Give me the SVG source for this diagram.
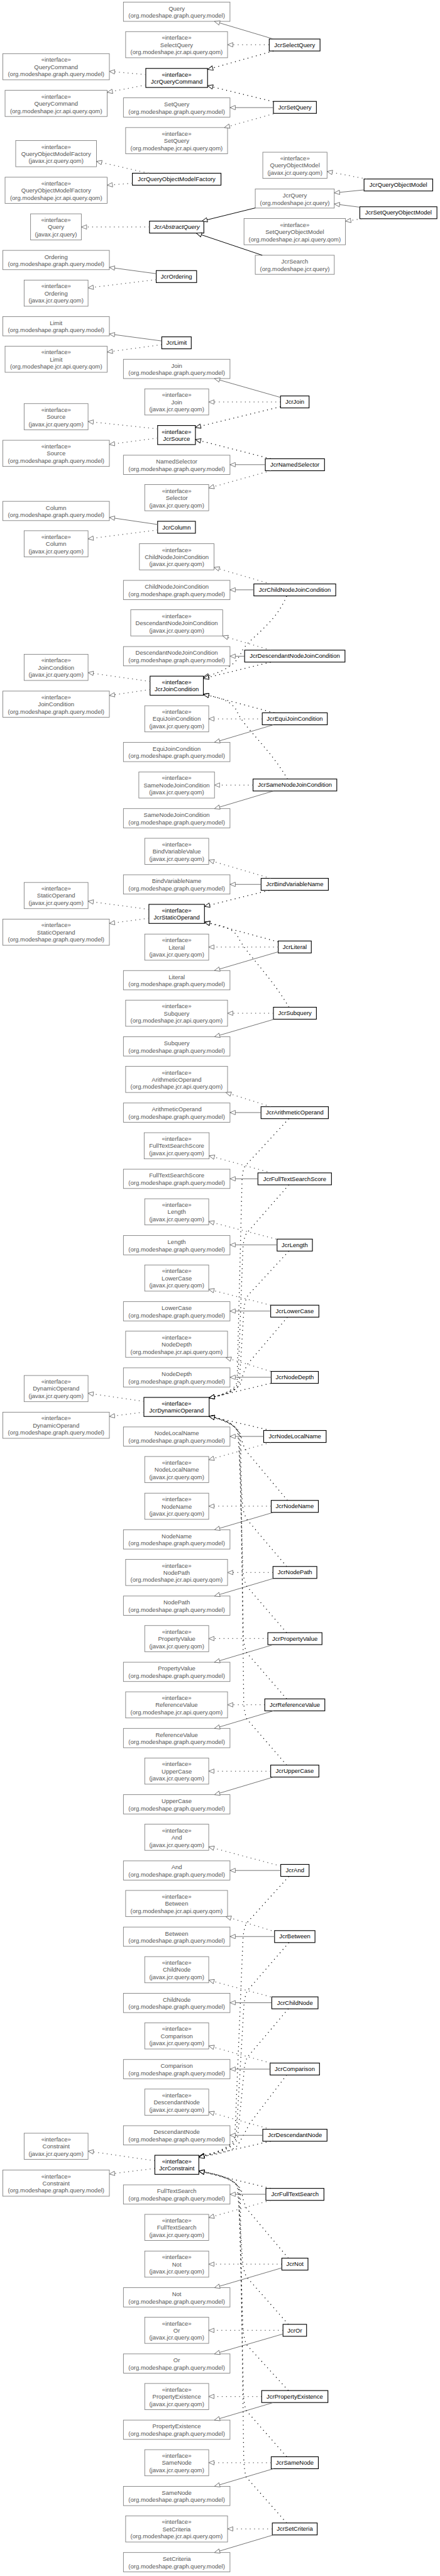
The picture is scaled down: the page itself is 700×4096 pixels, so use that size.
<svg xmlns="http://www.w3.org/2000/svg" width="700" height="4096" viewBox="0 0 700 4096">
<style>
text{font-family:"Liberation Sans",Arial,sans-serif;font-size:13.5px;text-anchor:middle}
.e rect{fill:#fff;stroke:#777;stroke-width:1.2}
.e text{fill:#555}
.j rect{fill:#fff;stroke:#000;stroke-width:1.6}
.j text{fill:#000}
.i{font-style:italic}
#edges path{fill:none}
.g{stroke:#666;stroke-width:1.3;marker-end:url(#ag)}
.gd{stroke:#555;stroke-width:1.8;stroke-dasharray:1.8 8;marker-end:url(#ag)}
.b{stroke:#000;stroke-width:1.4;marker-end:url(#ab)}
.bd{stroke:#000;stroke-width:1.8;stroke-dasharray:1.8 8;marker-end:url(#ab)}
</style>
<defs>
<marker id="ag" viewBox="-1 -1 14 12" refX="12" refY="5" markerWidth="14" markerHeight="12" markerUnits="userSpaceOnUse" orient="auto"><path d="M0,0L12,5L0,10Z" fill="#fff" stroke="#666" stroke-width="1.2"/></marker>
<marker id="ab" viewBox="-1 -1 14 12" refX="12" refY="5" markerWidth="14" markerHeight="12" markerUnits="userSpaceOnUse" orient="auto"><path d="M0,0L12,5L0,10Z" fill="#fff" stroke="#000" stroke-width="1.3"/></marker>
</defs>
<rect width="700" height="4096" fill="#fff"/>
<g transform="scale(0.705)">
<g id="nodes">
<g id="query-model" class="e" transform="translate(278.5,4.7)"><rect width="240.5" height="43.5"/><text x="120.25" y="19">Query</text><text x="120.25" y="35.5">(org.modeshape.graph.query.model)</text></g>
<g id="selectquery-api" class="e" transform="translate(283.5,71.3)"><rect width="230" height="59"/><text x="115" y="18.5">«interface»</text><text x="115" y="34.5">SelectQuery</text><text x="115" y="51">(org.modeshape.jcr.api.query.qom)</text></g>
<g id="JcrSelectQuery" class="j" transform="translate(607.6,88)"><rect width="114.6" height="27"/><text x="57.3" y="18">JcrSelectQuery</text></g>
<g id="querycommand-model" class="e" transform="translate(6.3,121)"><rect width="240.5" height="59"/><text x="120.25" y="18.5">«interface»</text><text x="120.25" y="34.5">QueryCommand</text><text x="120.25" y="51">(org.modeshape.graph.query.model)</text></g>
<g id="JcrQueryCommand" class="j" transform="translate(329,154.3)"><rect width="139.4" height="43"/><text x="69.7" y="18.5">«interface»</text><text x="69.7" y="34.5">JcrQueryCommand</text></g>
<g id="querycommand-api" class="e" transform="translate(11.4,203.7)"><rect width="230.4" height="59"/><text x="115.2" y="18.5">«interface»</text><text x="115.2" y="34.5">QueryCommand</text><text x="115.2" y="51">(org.modeshape.jcr.api.query.qom)</text></g>
<g id="setquery-model" class="e" transform="translate(278.5,220.7)"><rect width="240.5" height="43.5"/><text x="120.25" y="19">SetQuery</text><text x="120.25" y="35.5">(org.modeshape.graph.query.model)</text></g>
<g id="JcrSetQuery" class="j" transform="translate(617,228.7)"><rect width="97" height="27"/><text x="48.5" y="18">JcrSetQuery</text></g>
<g id="setquery-api" class="e" transform="translate(283.5,287.7)"><rect width="230" height="59"/><text x="115" y="18.5">«interface»</text><text x="115" y="34.5">SetQuery</text><text x="115" y="51">(org.modeshape.jcr.api.query.qom)</text></g>
<g id="qomfactory-javax" class="e" transform="translate(35.4,317)"><rect width="182.3" height="59"/><text x="91.15" y="18.5">«interface»</text><text x="91.15" y="34.5">QueryObjectModelFactory</text><text x="91.15" y="51">(javax.jcr.query.qom)</text></g>
<g id="JcrQueryObjectModelFactory" class="j" transform="translate(298.7,390.7)"><rect width="200" height="27"/><text x="100" y="18">JcrQueryObjectModelFactory</text></g>
<g id="qomfactory-api" class="e" transform="translate(11.4,399.7)"><rect width="230.4" height="59"/><text x="115.2" y="18.5">«interface»</text><text x="115.2" y="34.5">QueryObjectModelFactory</text><text x="115.2" y="51">(org.modeshape.jcr.api.query.qom)</text></g>
<g id="qom-javax" class="e" transform="translate(593,343.3)"><rect width="145" height="59"/><text x="72.5" y="18.5">«interface»</text><text x="72.5" y="34.5">QueryObjectModel</text><text x="72.5" y="51">(javax.jcr.query.qom)</text></g>
<g id="JcrQueryObjectModel" class="j" transform="translate(821.5,403.7)"><rect width="155" height="27"/><text x="77.5" y="18">JcrQueryObjectModel</text></g>
<g id="jcrquery" class="e" transform="translate(576,426.3)"><rect width="178.4" height="43"/><text x="89.2" y="19">JcrQuery</text><text x="89.2" y="35.5">(org.modeshape.jcr.query)</text></g>
<g id="JcrSetQueryObjectModel" class="j" transform="translate(812,466.3)"><rect width="174" height="27"/><text x="87" y="18">JcrSetQueryObjectModel</text></g>
<g id="query-javax" class="e" transform="translate(69,482.3)"><rect width="114.5" height="59"/><text x="57.25" y="18.5">«interface»</text><text x="57.25" y="34.5">Query</text><text x="57.25" y="51">(javax.jcr.query)</text></g>
<g id="JcrAbstractQuery" class="j" transform="translate(337.3,498.7)"><rect width="122.7" height="27"/><text class="i" x="61.35" y="18">JcrAbstractQuery</text></g>
<g id="setqom-api" class="e" transform="translate(550.6,493)"><rect width="229" height="59"/><text x="114.5" y="18.5">«interface»</text><text x="114.5" y="34.5">SetQueryObjectModel</text><text x="114.5" y="51">(org.modeshape.jcr.api.query.qom)</text></g>
<g id="jcrsearch" class="e" transform="translate(576,575.7)"><rect width="178.4" height="43"/><text x="89.2" y="19">JcrSearch</text><text x="89.2" y="35.5">(org.modeshape.jcr.query)</text></g>
<g id="ordering-model" class="e" transform="translate(6.3,564.7)"><rect width="240.5" height="43.5"/><text x="120.25" y="19">Ordering</text><text x="120.25" y="35.5">(org.modeshape.graph.query.model)</text></g>
<g id="JcrOrdering" class="j" transform="translate(352.5,610.3)"><rect width="91.2" height="27"/><text x="45.6" y="18">JcrOrdering</text></g>
<g id="ordering-javax" class="e" transform="translate(54.4,631.7)"><rect width="144.3" height="59"/><text x="72.15" y="18.5">«interface»</text><text x="72.15" y="34.5">Ordering</text><text x="72.15" y="51">(javax.jcr.query.qom)</text></g>
<g id="limit-model" class="e" transform="translate(6.3,714)"><rect width="240.5" height="43.5"/><text x="120.25" y="19">Limit</text><text x="120.25" y="35.5">(org.modeshape.graph.query.model)</text></g>
<g id="JcrLimit" class="j" transform="translate(365,759.7)"><rect width="66.6" height="27"/><text x="33.3" y="18">JcrLimit</text></g>
<g id="limit-api" class="e" transform="translate(11.4,780.7)"><rect width="230.4" height="59"/><text x="115.2" y="18.5">«interface»</text><text x="115.2" y="34.5">Limit</text><text x="115.2" y="51">(org.modeshape.jcr.api.query.qom)</text></g>
<g id="join-model" class="e" transform="translate(278.5,810.3)"><rect width="240.5" height="43.5"/><text x="120.25" y="19">Join</text><text x="120.25" y="35.5">(org.modeshape.graph.query.model)</text></g>
<g id="join-javax" class="e" transform="translate(326.6,877)"><rect width="144.4" height="59"/><text x="72.2" y="18.5">«interface»</text><text x="72.2" y="34.5">Join</text><text x="72.2" y="51">(javax.jcr.query.qom)</text></g>
<g id="JcrJoin" class="j" transform="translate(633,893)"><rect width="64.5" height="27"/><text x="32.25" y="18">JcrJoin</text></g>
<g id="source-javax" class="e" transform="translate(54.4,910.3)"><rect width="144.3" height="59"/><text x="72.15" y="18.5">«interface»</text><text x="72.15" y="34.5">Source</text><text x="72.15" y="51">(javax.jcr.query.qom)</text></g>
<g id="JcrSource" class="j" transform="translate(355.7,959.7)"><rect width="85.3" height="43"/><text x="42.65" y="18.5">«interface»</text><text x="42.65" y="34.5">JcrSource</text></g>
<g id="source-model" class="e" transform="translate(6.3,993)"><rect width="240.5" height="59"/><text x="120.25" y="18.5">«interface»</text><text x="120.25" y="34.5">Source</text><text x="120.25" y="51">(org.modeshape.graph.query.model)</text></g>
<g id="namedselector-model" class="e" transform="translate(278.5,1026.7)"><rect width="240.5" height="43.5"/><text x="120.25" y="19">NamedSelector</text><text x="120.25" y="35.5">(org.modeshape.graph.query.model)</text></g>
<g id="JcrNamedSelector" class="j" transform="translate(598.7,1034.7)"><rect width="133.6" height="27"/><text x="66.8" y="18">JcrNamedSelector</text></g>
<g id="selector-javax" class="e" transform="translate(326.6,1093)"><rect width="144.4" height="59"/><text x="72.2" y="18.5">«interface»</text><text x="72.2" y="34.5">Selector</text><text x="72.2" y="51">(javax.jcr.query.qom)</text></g>
<g id="column-model" class="e" transform="translate(6.3,1130.7)"><rect width="240.5" height="43.5"/><text x="120.25" y="19">Column</text><text x="120.25" y="35.5">(org.modeshape.graph.query.model)</text></g>
<g id="JcrColumn" class="j" transform="translate(355.7,1175.7)"><rect width="85.3" height="27"/><text x="42.65" y="18">JcrColumn</text></g>
<g id="column-javax" class="e" transform="translate(54.4,1197)"><rect width="144.3" height="59"/><text x="72.15" y="18.5">«interface»</text><text x="72.15" y="34.5">Column</text><text x="72.15" y="51">(javax.jcr.query.qom)</text></g>
<g id="childnodejoincondition-javax" class="e" transform="translate(314.6,1226.3)"><rect width="168.4" height="59"/><text x="84.2" y="18.5">«interface»</text><text x="84.2" y="34.5">ChildNodeJoinCondition</text><text x="84.2" y="51">(javax.jcr.query.qom)</text></g>
<g id="childnodejoincondition-model" class="e" transform="translate(278.5,1309)"><rect width="240.5" height="43.5"/><text x="120.25" y="19">ChildNodeJoinCondition</text><text x="120.25" y="35.5">(org.modeshape.graph.query.model)</text></g>
<g id="JcrChildNodeJoinCondition" class="j" transform="translate(572.8,1317)"><rect width="184.8" height="27"/><text x="92.4" y="18">JcrChildNodeJoinCondition</text></g>
<g id="descendantnodejoincondition-javax" class="e" transform="translate(295,1375.3)"><rect width="207.5" height="59"/><text x="103.75" y="18.5">«interface»</text><text x="103.75" y="34.5">DescendantNodeJoinCondition</text><text x="103.75" y="51">(javax.jcr.query.qom)</text></g>
<g id="descendantnodejoincondition-model" class="e" transform="translate(278.5,1458.3)"><rect width="240.5" height="43.5"/><text x="120.25" y="19">DescendantNodeJoinCondition</text><text x="120.25" y="35.5">(org.modeshape.graph.query.model)</text></g>
<g id="JcrDescendantNodeJoinCondition" class="j" transform="translate(552,1466.3)"><rect width="226.5" height="27"/><text x="113.25" y="18">JcrDescendantNodeJoinCondition</text></g>
<g id="joincondition-javax" class="e" transform="translate(54.4,1475.7)"><rect width="144.3" height="59"/><text x="72.15" y="18.5">«interface»</text><text x="72.15" y="34.5">JoinCondition</text><text x="72.15" y="51">(javax.jcr.query.qom)</text></g>
<g id="JcrJoinCondition" class="j" transform="translate(338.6,1525)"><rect width="120.3" height="43"/><text x="60.15" y="18.5">«interface»</text><text x="60.15" y="34.5">JcrJoinCondition</text></g>
<g id="joincondition-model" class="e" transform="translate(6.3,1558.7)"><rect width="240.5" height="59"/><text x="120.25" y="18.5">«interface»</text><text x="120.25" y="34.5">JoinCondition</text><text x="120.25" y="51">(org.modeshape.graph.query.model)</text></g>
<g id="equijoincondition-javax" class="e" transform="translate(326.6,1591.7)"><rect width="144.4" height="59"/><text x="72.2" y="18.5">«interface»</text><text x="72.2" y="34.5">EquiJoinCondition</text><text x="72.2" y="51">(javax.jcr.query.qom)</text></g>
<g id="JcrEquiJoinCondition" class="j" transform="translate(591.8,1607.7)"><rect width="146.8" height="27"/><text x="73.4" y="18">JcrEquiJoinCondition</text></g>
<g id="equijoincondition-model" class="e" transform="translate(278.5,1674.3)"><rect width="240.5" height="43.5"/><text x="120.25" y="19">EquiJoinCondition</text><text x="120.25" y="35.5">(org.modeshape.graph.query.model)</text></g>
<g id="samenodejoincondition-javax" class="e" transform="translate(313.3,1741)"><rect width="170.7" height="59"/><text x="85.35" y="18.5">«interface»</text><text x="85.35" y="34.5">SameNodeJoinCondition</text><text x="85.35" y="51">(javax.jcr.query.qom)</text></g>
<g id="JcrSameNodeJoinCondition" class="j" transform="translate(571,1757)"><rect width="189" height="27"/><text x="94.5" y="18">JcrSameNodeJoinCondition</text></g>
<g id="samenodejoincondition-model" class="e" transform="translate(278.5,1823.7)"><rect width="240.5" height="43.5"/><text x="120.25" y="19">SameNodeJoinCondition</text><text x="120.25" y="35.5">(org.modeshape.graph.query.model)</text></g>
<g id="bindvariablevalue-javax" class="e" transform="translate(326.6,1890.7)"><rect width="144.4" height="59"/><text x="72.2" y="18.5">«interface»</text><text x="72.2" y="34.5">BindVariableValue</text><text x="72.2" y="51">(javax.jcr.query.qom)</text></g>
<g id="bindvariablename-model" class="e" transform="translate(278.5,1973)"><rect width="240.5" height="43.5"/><text x="120.25" y="19">BindVariableName</text><text x="120.25" y="35.5">(org.modeshape.graph.query.model)</text></g>
<g id="JcrBindVariableName" class="j" transform="translate(589.2,1981)"><rect width="151.8" height="27"/><text x="75.9" y="18">JcrBindVariableName</text></g>
<g id="staticoperand-javax" class="e" transform="translate(54.4,1990.3)"><rect width="144.3" height="59"/><text x="72.15" y="18.5">«interface»</text><text x="72.15" y="34.5">StaticOperand</text><text x="72.15" y="51">(javax.jcr.query.qom)</text></g>
<g id="JcrStaticOperand" class="j" transform="translate(336,2039.7)"><rect width="125.4" height="43"/><text x="62.7" y="18.5">«interface»</text><text x="62.7" y="34.5">JcrStaticOperand</text></g>
<g id="staticoperand-model" class="e" transform="translate(6.3,2073)"><rect width="240.5" height="59"/><text x="120.25" y="18.5">«interface»</text><text x="120.25" y="34.5">StaticOperand</text><text x="120.25" y="51">(org.modeshape.graph.query.model)</text></g>
<g id="literal-javax" class="e" transform="translate(326.6,2106.7)"><rect width="144.4" height="59"/><text x="72.2" y="18.5">«interface»</text><text x="72.2" y="34.5">Literal</text><text x="72.2" y="51">(javax.jcr.query.qom)</text></g>
<g id="JcrLiteral" class="j" transform="translate(627.8,2122.3)"><rect width="74.7" height="27"/><text x="37.35" y="18">JcrLiteral</text></g>
<g id="literal-model" class="e" transform="translate(278.5,2189)"><rect width="240.5" height="43.5"/><text x="120.25" y="19">Literal</text><text x="120.25" y="35.5">(org.modeshape.graph.query.model)</text></g>
<g id="subquery-api" class="e" transform="translate(283.5,2255.7)"><rect width="230" height="59"/><text x="115" y="18.5">«interface»</text><text x="115" y="34.5">Subquery</text><text x="115" y="51">(org.modeshape.jcr.api.query.qom)</text></g>
<g id="JcrSubquery" class="j" transform="translate(617,2271.7)"><rect width="97" height="27"/><text x="48.5" y="18">JcrSubquery</text></g>
<g id="subquery-model" class="e" transform="translate(278.5,2338.3)"><rect width="240.5" height="43.5"/><text x="120.25" y="19">Subquery</text><text x="120.25" y="35.5">(org.modeshape.graph.query.model)</text></g>
<g id="arithmeticoperand-api" class="e" transform="translate(283.5,2405)"><rect width="230" height="59"/><text x="115" y="18.5">«interface»</text><text x="115" y="34.5">ArithmeticOperand</text><text x="115" y="51">(org.modeshape.jcr.api.query.qom)</text></g>
<g id="arithmeticoperand-model" class="e" transform="translate(278.5,2487.7)"><rect width="240.5" height="43.5"/><text x="120.25" y="19">ArithmeticOperand</text><text x="120.25" y="35.5">(org.modeshape.graph.query.model)</text></g>
<g id="JcrArithmeticOperand" class="j" transform="translate(589,2496)"><rect width="152" height="27"/><text x="76" y="18">JcrArithmeticOperand</text></g>
<g id="fulltextsearchscore-javax" class="e" transform="translate(325.3,2554.7)"><rect width="146.7" height="59"/><text x="73.35" y="18.5">«interface»</text><text x="73.35" y="34.5">FullTextSearchScore</text><text x="73.35" y="51">(javax.jcr.query.qom)</text></g>
<g id="fulltextsearchscore-model" class="e" transform="translate(278.5,2637)"><rect width="240.5" height="43.5"/><text x="120.25" y="19">FullTextSearchScore</text><text x="120.25" y="35.5">(org.modeshape.graph.query.model)</text></g>
<g id="JcrFullTextSearchScore" class="j" transform="translate(582,2645.3)"><rect width="166" height="27"/><text x="83" y="18">JcrFullTextSearchScore</text></g>
<g id="length-javax" class="e" transform="translate(326.6,2703.7)"><rect width="144.4" height="59"/><text x="72.2" y="18.5">«interface»</text><text x="72.2" y="34.5">Length</text><text x="72.2" y="51">(javax.jcr.query.qom)</text></g>
<g id="length-model" class="e" transform="translate(278.5,2786.7)"><rect width="240.5" height="43.5"/><text x="120.25" y="19">Length</text><text x="120.25" y="35.5">(org.modeshape.graph.query.model)</text></g>
<g id="JcrLength" class="j" transform="translate(625.3,2794.7)"><rect width="79.7" height="27"/><text x="39.85" y="18">JcrLength</text></g>
<g id="lowercase-javax" class="e" transform="translate(326.6,2853)"><rect width="144.4" height="59"/><text x="72.2" y="18.5">«interface»</text><text x="72.2" y="34.5">LowerCase</text><text x="72.2" y="51">(javax.jcr.query.qom)</text></g>
<g id="lowercase-model" class="e" transform="translate(278.5,2935.7)"><rect width="240.5" height="43.5"/><text x="120.25" y="19">LowerCase</text><text x="120.25" y="35.5">(org.modeshape.graph.query.model)</text></g>
<g id="JcrLowerCase" class="j" transform="translate(610.8,2943.7)"><rect width="108.8" height="27"/><text x="54.4" y="18">JcrLowerCase</text></g>
<g id="nodedepth-api" class="e" transform="translate(283.5,3002.3)"><rect width="230" height="59"/><text x="115" y="18.5">«interface»</text><text x="115" y="34.5">NodeDepth</text><text x="115" y="51">(org.modeshape.jcr.api.query.qom)</text></g>
<g id="nodedepth-model" class="e" transform="translate(278.5,3085)"><rect width="240.5" height="43.5"/><text x="120.25" y="19">NodeDepth</text><text x="120.25" y="35.5">(org.modeshape.graph.query.model)</text></g>
<g id="JcrNodeDepth" class="j" transform="translate(612,3093)"><rect width="106.4" height="27"/><text x="53.2" y="18">JcrNodeDepth</text></g>
<g id="dynamicoperand-javax" class="e" transform="translate(54.4,3102.3)"><rect width="144.3" height="59"/><text x="72.15" y="18.5">«interface»</text><text x="72.15" y="34.5">DynamicOperand</text><text x="72.15" y="51">(javax.jcr.query.qom)</text></g>
<g id="JcrDynamicOperand" class="j" transform="translate(324.7,3151.7)"><rect width="147.3" height="43"/><text x="73.65" y="18.5">«interface»</text><text x="73.65" y="34.5">JcrDynamicOperand</text></g>
<g id="dynamicoperand-model" class="e" transform="translate(6.3,3185)"><rect width="240.5" height="59"/><text x="120.25" y="18.5">«interface»</text><text x="120.25" y="34.5">DynamicOperand</text><text x="120.25" y="51">(org.modeshape.graph.query.model)</text></g>
<g id="nodelocalname-model" class="e" transform="translate(278.5,3218.3)"><rect width="240.5" height="43.5"/><text x="120.25" y="19">NodeLocalName</text><text x="120.25" y="35.5">(org.modeshape.graph.query.model)</text></g>
<g id="JcrNodeLocalName" class="j" transform="translate(595,3226.3)"><rect width="141" height="27"/><text x="70.5" y="18">JcrNodeLocalName</text></g>
<g id="nodelocalname-javax" class="e" transform="translate(326.6,3285)"><rect width="144.4" height="59"/><text x="72.2" y="18.5">«interface»</text><text x="72.2" y="34.5">NodeLocalName</text><text x="72.2" y="51">(javax.jcr.query.qom)</text></g>
<g id="nodename-javax" class="e" transform="translate(326.6,3367.7)"><rect width="144.4" height="59"/><text x="72.2" y="18.5">«interface»</text><text x="72.2" y="34.5">NodeName</text><text x="72.2" y="51">(javax.jcr.query.qom)</text></g>
<g id="JcrNodeName" class="j" transform="translate(612,3384)"><rect width="106.4" height="27"/><text x="53.2" y="18">JcrNodeName</text></g>
<g id="nodename-model" class="e" transform="translate(278.5,3450.3)"><rect width="240.5" height="43.5"/><text x="120.25" y="19">NodeName</text><text x="120.25" y="35.5">(org.modeshape.graph.query.model)</text></g>
<g id="nodepath-api" class="e" transform="translate(283.5,3517)"><rect width="230" height="59"/><text x="115" y="18.5">«interface»</text><text x="115" y="34.5">NodePath</text><text x="115" y="51">(org.modeshape.jcr.api.query.qom)</text></g>
<g id="JcrNodePath" class="j" transform="translate(616,3533)"><rect width="99" height="27"/><text x="49.5" y="18">JcrNodePath</text></g>
<g id="nodepath-model" class="e" transform="translate(278.5,3599.7)"><rect width="240.5" height="43.5"/><text x="120.25" y="19">NodePath</text><text x="120.25" y="35.5">(org.modeshape.graph.query.model)</text></g>
<g id="propertyvalue-javax" class="e" transform="translate(326.6,3666.3)"><rect width="144.4" height="59"/><text x="72.2" y="18.5">«interface»</text><text x="72.2" y="34.5">PropertyValue</text><text x="72.2" y="51">(javax.jcr.query.qom)</text></g>
<g id="JcrPropertyValue" class="j" transform="translate(604.4,3682.3)"><rect width="122.2" height="27"/><text x="61.1" y="18">JcrPropertyValue</text></g>
<g id="propertyvalue-model" class="e" transform="translate(278.5,3749)"><rect width="240.5" height="43.5"/><text x="120.25" y="19">PropertyValue</text><text x="120.25" y="35.5">(org.modeshape.graph.query.model)</text></g>
<g id="referencevalue-api" class="e" transform="translate(283.5,3815.7)"><rect width="230" height="59"/><text x="115" y="18.5">«interface»</text><text x="115" y="34.5">ReferenceValue</text><text x="115" y="51">(org.modeshape.jcr.api.query.qom)</text></g>
<g id="JcrReferenceValue" class="j" transform="translate(597.5,3831.7)"><rect width="135.5" height="27"/><text x="67.75" y="18">JcrReferenceValue</text></g>
<g id="referencevalue-model" class="e" transform="translate(278.5,3898.3)"><rect width="240.5" height="43.5"/><text x="120.25" y="19">ReferenceValue</text><text x="120.25" y="35.5">(org.modeshape.graph.query.model)</text></g>
<g id="uppercase-javax" class="e" transform="translate(326.6,3965)"><rect width="144.4" height="59"/><text x="72.2" y="18.5">«interface»</text><text x="72.2" y="34.5">UpperCase</text><text x="72.2" y="51">(javax.jcr.query.qom)</text></g>
<g id="JcrUpperCase" class="j" transform="translate(610.8,3981)"><rect width="108.8" height="27"/><text x="54.4" y="18">JcrUpperCase</text></g>
<g id="uppercase-model" class="e" transform="translate(278.5,4047.7)"><rect width="240.5" height="43.5"/><text x="120.25" y="19">UpperCase</text><text x="120.25" y="35.5">(org.modeshape.graph.query.model)</text></g>
<g id="and-javax" class="e" transform="translate(326.6,4114.3)"><rect width="144.4" height="59"/><text x="72.2" y="18.5">«interface»</text><text x="72.2" y="34.5">And</text><text x="72.2" y="51">(javax.jcr.query.qom)</text></g>
<g id="and-model" class="e" transform="translate(278.5,4197)"><rect width="240.5" height="43.5"/><text x="120.25" y="19">And</text><text x="120.25" y="35.5">(org.modeshape.graph.query.model)</text></g>
<g id="JcrAnd" class="j" transform="translate(633.5,4205)"><rect width="64" height="27"/><text x="32" y="18">JcrAnd</text></g>
<g id="between-api" class="e" transform="translate(283.5,4263.7)"><rect width="230" height="59"/><text x="115" y="18.5">«interface»</text><text x="115" y="34.5">Between</text><text x="115" y="51">(org.modeshape.jcr.api.query.qom)</text></g>
<g id="between-model" class="e" transform="translate(278.5,4346.3)"><rect width="240.5" height="43.5"/><text x="120.25" y="19">Between</text><text x="120.25" y="35.5">(org.modeshape.graph.query.model)</text></g>
<g id="JcrBetween" class="j" transform="translate(619.6,4354.3)"><rect width="91.2" height="27"/><text x="45.6" y="18">JcrBetween</text></g>
<g id="childnode-javax" class="e" transform="translate(326.6,4413)"><rect width="144.4" height="59"/><text x="72.2" y="18.5">«interface»</text><text x="72.2" y="34.5">ChildNode</text><text x="72.2" y="51">(javax.jcr.query.qom)</text></g>
<g id="childnode-model" class="e" transform="translate(278.5,4495.7)"><rect width="240.5" height="43.5"/><text x="120.25" y="19">ChildNode</text><text x="120.25" y="35.5">(org.modeshape.graph.query.model)</text></g>
<g id="JcrChildNode" class="j" transform="translate(613.3,4503.7)"><rect width="104.4" height="27"/><text x="52.2" y="18">JcrChildNode</text></g>
<g id="comparison-javax" class="e" transform="translate(326.6,4562.3)"><rect width="144.4" height="59"/><text x="72.2" y="18.5">«interface»</text><text x="72.2" y="34.5">Comparison</text><text x="72.2" y="51">(javax.jcr.query.qom)</text></g>
<g id="comparison-model" class="e" transform="translate(278.5,4645)"><rect width="240.5" height="43.5"/><text x="120.25" y="19">Comparison</text><text x="120.25" y="35.5">(org.modeshape.graph.query.model)</text></g>
<g id="JcrComparison" class="j" transform="translate(609.5,4653)"><rect width="111.5" height="27"/><text x="55.75" y="18">JcrComparison</text></g>
<g id="descendantnode-javax" class="e" transform="translate(326.6,4711.7)"><rect width="144.4" height="59"/><text x="72.2" y="18.5">«interface»</text><text x="72.2" y="34.5">DescendantNode</text><text x="72.2" y="51">(javax.jcr.query.qom)</text></g>
<g id="descendantnode-model" class="e" transform="translate(278.5,4794.3)"><rect width="240.5" height="43.5"/><text x="120.25" y="19">DescendantNode</text><text x="120.25" y="35.5">(org.modeshape.graph.query.model)</text></g>
<g id="JcrDescendantNode" class="j" transform="translate(593,4802.3)"><rect width="145" height="27"/><text x="72.5" y="18">JcrDescendantNode</text></g>
<g id="constraint-javax" class="e" transform="translate(54.4,4811.3)"><rect width="144.3" height="59"/><text x="72.15" y="18.5">«interface»</text><text x="72.15" y="34.5">Constraint</text><text x="72.15" y="51">(javax.jcr.query.qom)</text></g>
<g id="JcrConstraint" class="j" transform="translate(349.4,4861)"><rect width="99.3" height="43"/><text x="49.65" y="18.5">«interface»</text><text x="49.65" y="34.5">JcrConstraint</text></g>
<g id="constraint-model" class="e" transform="translate(6.3,4894.3)"><rect width="240.5" height="59"/><text x="120.25" y="18.5">«interface»</text><text x="120.25" y="34.5">Constraint</text><text x="120.25" y="51">(org.modeshape.graph.query.model)</text></g>
<g id="fulltextsearch-model" class="e" transform="translate(278.5,4927.7)"><rect width="240.5" height="43.5"/><text x="120.25" y="19">FullTextSearch</text><text x="120.25" y="35.5">(org.modeshape.graph.query.model)</text></g>
<g id="JcrFullTextSearch" class="j" transform="translate(600,4935.7)"><rect width="131" height="27"/><text x="65.5" y="18">JcrFullTextSearch</text></g>
<g id="fulltextsearch-javax" class="e" transform="translate(326.6,4994.3)"><rect width="144.4" height="59"/><text x="72.2" y="18.5">«interface»</text><text x="72.2" y="34.5">FullTextSearch</text><text x="72.2" y="51">(javax.jcr.query.qom)</text></g>
<g id="not-javax" class="e" transform="translate(326.6,5077)"><rect width="144.4" height="59"/><text x="72.2" y="18.5">«interface»</text><text x="72.2" y="34.5">Not</text><text x="72.2" y="51">(javax.jcr.query.qom)</text></g>
<g id="JcrNot" class="j" transform="translate(636,5093)"><rect width="59" height="27"/><text x="29.5" y="18">JcrNot</text></g>
<g id="not-model" class="e" transform="translate(278.5,5159.7)"><rect width="240.5" height="43.5"/><text x="120.25" y="19">Not</text><text x="120.25" y="35.5">(org.modeshape.graph.query.model)</text></g>
<g id="or-javax" class="e" transform="translate(326.6,5226.3)"><rect width="144.4" height="59"/><text x="72.2" y="18.5">«interface»</text><text x="72.2" y="34.5">Or</text><text x="72.2" y="51">(javax.jcr.query.qom)</text></g>
<g id="JcrOr" class="j" transform="translate(638.6,5242.3)"><rect width="53.2" height="27"/><text x="26.6" y="18">JcrOr</text></g>
<g id="or-model" class="e" transform="translate(278.5,5309)"><rect width="240.5" height="43.5"/><text x="120.25" y="19">Or</text><text x="120.25" y="35.5">(org.modeshape.graph.query.model)</text></g>
<g id="propertyexistence-javax" class="e" transform="translate(326.6,5375.7)"><rect width="144.4" height="59"/><text x="72.2" y="18.5">«interface»</text><text x="72.2" y="34.5">PropertyExistence</text><text x="72.2" y="51">(javax.jcr.query.qom)</text></g>
<g id="JcrPropertyExistence" class="j" transform="translate(590.5,5391.7)"><rect width="149.5" height="27"/><text x="74.75" y="18">JcrPropertyExistence</text></g>
<g id="propertyexistence-model" class="e" transform="translate(278.5,5458.3)"><rect width="240.5" height="43.5"/><text x="120.25" y="19">PropertyExistence</text><text x="120.25" y="35.5">(org.modeshape.graph.query.model)</text></g>
<g id="samenode-javax" class="e" transform="translate(326.6,5525)"><rect width="144.4" height="59"/><text x="72.2" y="18.5">«interface»</text><text x="72.2" y="34.5">SameNode</text><text x="72.2" y="51">(javax.jcr.query.qom)</text></g>
<g id="JcrSameNode" class="j" transform="translate(612,5541)"><rect width="106.4" height="27"/><text x="53.2" y="18">JcrSameNode</text></g>
<g id="samenode-model" class="e" transform="translate(278.5,5607.7)"><rect width="240.5" height="43.5"/><text x="120.25" y="19">SameNode</text><text x="120.25" y="35.5">(org.modeshape.graph.query.model)</text></g>
<g id="setcriteria-api" class="e" transform="translate(283.5,5674.3)"><rect width="230" height="59"/><text x="115" y="18.5">«interface»</text><text x="115" y="34.5">SetCriteria</text><text x="115" y="51">(org.modeshape.jcr.api.query.qom)</text></g>
<g id="JcrSetCriteria" class="j" transform="translate(614.5,5690.3)"><rect width="101.3" height="27"/><text x="50.65" y="18">JcrSetCriteria</text></g>
<g id="setcriteria-model" class="e" transform="translate(278.5,5757)"><rect width="240.5" height="43.5"/><text x="120.25" y="19">SetCriteria</text><text x="120.25" y="35.5">(org.modeshape.graph.query.model)</text></g>
</g>
<g id="edges">
<path class="g" d="M617,88L484,48.3"/>
<path class="gd" d="M607,101L513.5,101"/>
<path class="bd" d="M617,115L468.4,156.7"/>
<path class="gd" d="M329,168.3L246.8,161"/>
<path class="gd" d="M329,191.7L241.8,208.3"/>
<path class="bd" d="M617,229.3L468.4,193.3"/>
<path class="g" d="M617,242.7L519,242.7"/>
<path class="gd" d="M617,256.7L506.3,287.7"/>
<path class="gd" d="M335.4,390.7L217.7,364"/>
<path class="gd" d="M298.7,413.3L241.8,417.7"/>
<path class="gd" d="M827.8,403.7L738,386.7"/>
<path class="g" d="M821.5,428.3L754.4,435"/>
<path class="g" d="M812,467.3L754.4,460"/>
<path class="gd" d="M816.5,493.3L779.7,499"/>
<path class="b" d="M576,469L455.7,498.7"/>
<path class="gd" d="M337.3,512L183.5,512"/>
<path class="b" d="M591.8,575.7L443,525.7"/>
<path class="g" d="M352.5,617.3L246.8,603"/>
<path class="gd" d="M352.5,630.7L198.7,649.3"/>
<path class="g" d="M365,769L246.8,753.3"/>
<path class="gd" d="M365,777.3L241.8,794"/>
<path class="g" d="M633,896.3L484,853.8"/>
<path class="gd" d="M633,906.7L471,906.7"/>
<path class="bd" d="M633,917.3L441,964"/>
<path class="gd" d="M355.7,967.3L198.7,950.7"/>
<path class="gd" d="M355.7,988L246.8,1002.3"/>
<path class="bd" d="M610.8,1034.7L441,991.3"/>
<path class="g" d="M598.7,1048L519,1048"/>
<path class="gd" d="M610.8,1061.7L471,1100.7"/>
<path class="g" d="M355.7,1183L246.8,1167"/>
<path class="gd" d="M355.7,1195.3L198.7,1215.3"/>
<path class="gd" d="M610.8,1317L483,1279.7"/>
<path class="g" d="M572.8,1330.3L519,1330.3"/>
<path class="bd" d="M646.8,1344.3C620,1410 560,1440 545,1470Q530,1510 458.9,1527"/>
<path class="gd" d="M610.8,1466.3L502.5,1434.3"/>
<path class="g" d="M552,1480L519,1480"/>
<path class="bd" d="M610.8,1493.3L458.9,1530.3"/>
<path class="gd" d="M338.6,1537L198.7,1517"/>
<path class="gd" d="M338.6,1555.3L246.8,1568.7"/>
<path class="bd" d="M619,1607.7L458.9,1565.3"/>
<path class="gd" d="M591.8,1621.3L471,1621.3"/>
<path class="g" d="M617,1634.7L484,1674.3"/>
<path class="bd" d="M648.7,1757C610,1690 550,1640 535,1605Q522,1575 458.9,1567"/>
<path class="gd" d="M571,1770.7L484,1770.7"/>
<path class="g" d="M617,1784L484,1823.7"/>
<path class="gd" d="M610.8,1981L471,1940"/>
<path class="g" d="M589.2,1994.7L519,1994.7"/>
<path class="bd" d="M607.6,2008L461.4,2044.3"/>
<path class="gd" d="M336,2051L198.7,2032.7"/>
<path class="gd" d="M336,2071L246.8,2082.7"/>
<path class="bd" d="M627.8,2124.3L461.4,2079.3"/>
<path class="gd" d="M627.8,2136L471,2136"/>
<path class="g" d="M627.8,2146.7L484,2189"/>
<path class="bd" d="M651.9,2271.7C610,2200 555,2150 538,2115Q525,2088 461.4,2081"/>
<path class="gd" d="M617,2285.3L513.5,2285.3"/>
<path class="g" d="M617,2299.3L484,2338.3"/>
<path class="gd" d="M610.8,2496L509.5,2464"/>
<path class="g" d="M589,2509.3L519,2509.3"/>
<path class="bd" d="M651.9,2523L553,2630Q546,2642 546,2670L535,3115Q532,3140 472,3152.5"/>
<path class="gd" d="M612.7,2645.3L472,2606.7"/>
<path class="g" d="M582,2658.7L519,2658.7"/>
<path class="bd" d="M651.9,2672.3L556,2782Q549,2795 548,2820L537,3117Q534,3141 472,3152.5"/>
<path class="gd" d="M623.4,2794.7L471,2755"/>
<path class="g" d="M625.3,2807.7L519,2807.7"/>
<path class="bd" d="M651.9,2821.7L560,2921Q551,2935 550,2960L540,3119Q537,3142 472,3152.5"/>
<path class="gd" d="M610.8,2943.7L471,2908"/>
<path class="g" d="M610.8,2957L519,2957"/>
<path class="bd" d="M648.7,2970.7L560,3075Q548,3095 545,3115Q540,3140 472,3152.5"/>
<path class="gd" d="M610.8,3093L509.5,3062"/>
<path class="g" d="M612,3106.3L519,3106.3"/>
<path class="bd" d="M610.8,3120L472,3153"/>
<path class="gd" d="M324.7,3160.7L198.7,3142.3"/>
<path class="gd" d="M324.7,3185L246.8,3194.7"/>
<path class="bd" d="M610.8,3226.3L472,3194"/>
<path class="g" d="M595,3239.7L519,3239.7"/>
<path class="gd" d="M610.8,3253.3L471,3292.3"/>
<path class="bd" d="M648.7,3384L560,3278Q548,3262 545,3245Q540,3208 472,3194.5"/>
<path class="gd" d="M612,3397L471,3397"/>
<path class="g" d="M617,3411L484,3450.3"/>
<path class="bd" d="M646.8,3533L558,3428Q548,3412 547,3390L537,3235Q533,3205 472,3194.5"/>
<path class="gd" d="M616,3546.7L513.5,3546.7"/>
<path class="g" d="M617,3560L484,3599.7"/>
<path class="bd" d="M646.8,3682.3L557,3578Q549,3562 548,3540L539,3237Q535,3207 472,3194.5"/>
<path class="gd" d="M604.4,3695.7L471,3695.7"/>
<path class="g" d="M617,3709.3L484,3749"/>
<path class="bd" d="M646.8,3831.7L557,3728Q550,3712 549,3690L541,3239Q537,3209 472,3194.5"/>
<path class="gd" d="M597.5,3845L513.5,3845"/>
<path class="g" d="M617,3858.7L484,3898.3"/>
<path class="bd" d="M646.8,3981L557,3877Q551,3862 550,3840L543,3241Q539,3211 472,3194.5"/>
<path class="gd" d="M610.8,3994.7L471,3994.7"/>
<path class="g" d="M617,4008L484,4047.7"/>
<path class="gd" d="M633.5,4208.7L471,4165.3"/>
<path class="g" d="M633.5,4218.7L519,4218.7"/>
<path class="bd" d="M651.9,4232L556,4338Q549,4352 548,4380L530,4818Q526,4848 448.7,4864"/>
<path class="gd" d="M612.7,4354.3L509.5,4322.7"/>
<path class="g" d="M619.6,4367.7L519,4367.7"/>
<path class="bd" d="M651.9,4381.3L558,4490Q551,4505 550,4530L533,4820Q529,4849 448.7,4864"/>
<path class="gd" d="M610.8,4503.7L471,4466"/>
<path class="g" d="M613.3,4517L519,4517"/>
<path class="bd" d="M650.6,4530.7L558,4640Q551,4655 550,4680L536,4822Q531,4850 448.7,4864"/>
<path class="gd" d="M610.8,4653L471,4614.3"/>
<path class="g" d="M609.5,4666.7L519,4666.7"/>
<path class="bd" d="M646.8,4680L563,4790Q545,4825 535,4840Q520,4856 448.7,4864"/>
<path class="gd" d="M610.8,4802.3L471,4763.3"/>
<path class="g" d="M593,4816L519,4816"/>
<path class="bd" d="M610.8,4829.3L448.7,4866"/>
<path class="gd" d="M349.4,4873.3L198.7,4851.7"/>
<path class="gd" d="M349.4,4890.7L246.8,4903.3"/>
<path class="bd" d="M610.8,4935.7L448.7,4896.7"/>
<path class="g" d="M600,4949L519,4949"/>
<path class="gd" d="M610.8,4962.7L471,5001.7"/>
<path class="bd" d="M650.6,5093L557,4982Q548,4965 546,4945Q538,4912 448.7,4897"/>
<path class="gd" d="M636,5106.7L471,5106.7"/>
<path class="g" d="M636,5115L484,5159.7"/>
<path class="bd" d="M650.6,5242.3L556,5135Q548,5118 547,5095L536,4935Q530,4908 448.7,4897"/>
<path class="gd" d="M638.6,5256L471,5256"/>
<path class="g" d="M638.6,5264L484,5309"/>
<path class="bd" d="M650.6,5391.7L556,5288Q549,5270 548,5245L538,4937Q532,4909 448.7,4897"/>
<path class="gd" d="M590.5,5405L471,5405"/>
<path class="g" d="M617,5418.7L484,5458.3"/>
<path class="bd" d="M646.8,5541L555,5436Q550,5420 549,5395L540,4939Q534,4910 448.7,4897"/>
<path class="gd" d="M612,5554.3L471,5554.3"/>
<path class="g" d="M617,5568L484,5607.7"/>
<path class="bd" d="M646.8,5690.3L555,5586Q551,5570 550,5545L542,4941Q536,4911 448.7,4897"/>
<path class="gd" d="M614.5,5703.7L513.5,5703.7"/>
<path class="g" d="M617,5717.3L484,5757"/>
</g>
</g>
</svg>
